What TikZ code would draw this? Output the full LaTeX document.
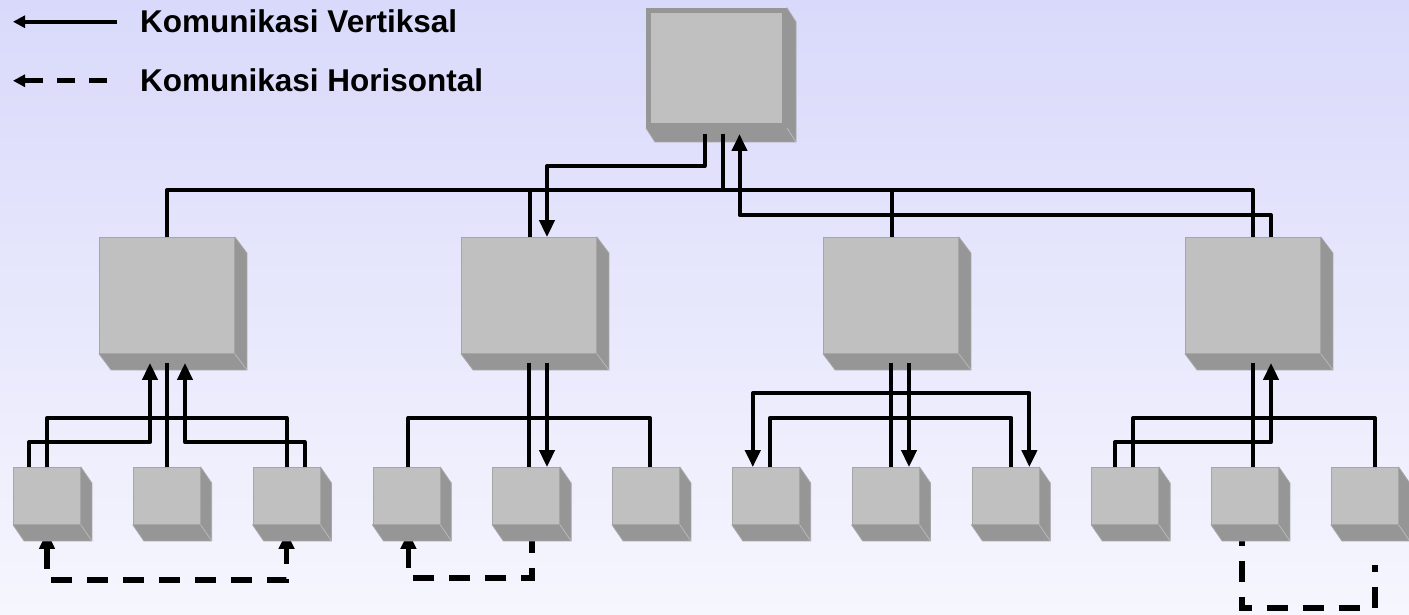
\documentclass[tikz,border=0pt]{standalone}
\usepackage{fontspec}
\setmainfont{Liberation Sans}
\usepackage{tikz}
\usetikzlibrary{arrows.meta, backgrounds, calc}

\definecolor{bgtop}{RGB}{217,217,251}
\definecolor{bgbot}{RGB}{246,246,254}
\definecolor{face}{RGB}{192,192,192}
\definecolor{shadow}{RGB}{150,150,150}
\definecolor{edge}{RGB}{166,166,166}
\definecolor{ridge}{RGB}{185,185,185}

\begin{document}
\begin{tikzpicture}
		[x=1pt, y=-1pt,
		>={Triangle[width=15pt,length=17pt]},
		hb/.style = {rectangle, fill=face, draw=shadow, line width=5pt, inner sep=0pt, outer sep=2.5pt, minimum width=136pt, minimum height=115pt},
		mb/.style = {rectangle, fill=face, draw=edge, line width=0.8pt, inner sep=0pt, minimum width=135pt, minimum height=116pt},
		sb/.style = {rectangle, fill=face, draw=edge, line width=0.8pt, inner sep=0pt, minimum width=67pt, minimum height=57pt},
		back/.style = {fill=shadow, draw=edge, line width=0.8pt},
		vl/.style = {draw=black, line width=4pt, line join=round},
		hl/.style = {draw=black, line width=5.5pt, dash pattern=on 21pt off 15pt},
		lg/.style = {inner sep=0pt, anchor=base west, font=\bfseries\fontsize{31.5}{37}\selectfont}]
		
		\useasboundingbox (0,0) rectangle (1409,615);
		
		% boxes
		\node[hb] (top) at (716.5,68) {};
		\foreach \i in {1,...,4}
		{
			\node[mb] (m\i) at ({167+362*(\i-1)},295.5) {};
		}
		\foreach \i in {1,...,12}
		{
			\node[sb] (b\i) at ({47+119.8*(\i-1)},496) {};
		}
		
		% legend
		\node[lg] (lgv) at (140,33) {Komunikasi Vertiksal};
		\node[lg] (lgh) at (140,92) {Komunikasi Horisontal};
		\draw[vl, {Triangle[width=12pt,length=12pt]}-] ([xshift=-127pt]lgv.west) -- ([xshift=-23pt]lgv.west);
		\draw[hl, dash pattern=on 18pt off 14pt, -{Triangle[width=12pt,length=12pt]}] ([xshift=-33pt]lgh.west) -- ([xshift=-127pt]lgh.west);
		
		% ports under the middle boxes
		\foreach \m in {m1,m2,m3,m4}
		{
			\coordinate (\m c) at ([yshift=-9pt]\m.south);
			\coordinate (\m l) at ([xshift=-17pt,yshift=-9pt]\m.south);
			\coordinate (\m r) at ([xshift=18pt,yshift=-9pt]\m.south);
		}
		
		% top level
		\draw[vl] ([xshift=6pt,yshift=-6pt]top.south) -- ++(0,56);
		\draw[vl] (m1.north) -- ++(0,-47) -| (m4.north);
		\foreach \m in {m2,m3}
			\draw[vl] ([xshift=1pt]\m.north) -- ++(0,-47);
		\draw[vl,->] ([xshift=-12pt,yshift=-6pt]top.south) -- ++(0,32) -| ([xshift=18pt]m2.north);
		\draw[vl,->] ([xshift=18pt]m4.north) -- ++(0,-22) -| ([xshift=23pt,yshift=-6pt]top.south);
		
		% group 1
		\draw[vl] (m1c) -- (m1c |- b2.north);
		\draw[vl] (b1.north) -- ++(0,-49) -| (b3.north);
		\draw[vl,->] ([xshift=-18pt]b1.north) -- ++(0,-25) -| (m1l);
		\draw[vl,->] ([xshift=18pt]b3.north) -- ++(0,-25) -| (m1r);
		
		% group 2
		\draw[vl] (m2c) -- (m2c |- b5.north);
		\draw[vl,->] (m2r) -- (m2r |- b5.north);
		\draw[vl] ([xshift=2pt]b4.north) -- ++(0,-49) -| ([xshift=4pt]b6.north);
		
		% group 3
		\draw[vl] (m3c) -- (m3c |- b8.north);
		\draw[vl,->] (m3r) -- (m3r |- b8.north);
		\draw[vl] ([xshift=4pt]b7.north) -- ++(0,-49) -| ([xshift=6pt]b9.north);
		\draw[vl,<->] ([xshift=-13pt]b7.north) -- ++(0,-74) -| ([xshift=24pt]b9.north);
		
		% group 4
		\draw[vl] (m4c) -- (m4c |- b11.north);
		\draw[vl,->] ([xshift=-10pt]b10.north) -- ++(0,-25) -| (m4r);
		\draw[vl] ([xshift=8pt]b10.north) -- ++(0,-49) -| ([xshift=10pt]b12.north);
		
		\begin{scope}[on background layer]
			\shade[top color=bgtop, bottom color=bgbot] (0,0) rectangle (1409,615);
			
			% horizontal communication
			\draw[hl,<->] ([yshift=-7pt]b1.south) -- ++(0,48) -| ([yshift=-7pt]b3.south);
			\draw[hl,->] ([xshift=6pt,yshift=-7pt]b5.south) -- ++(0,46) -| ([xshift=2pt,yshift=-7pt]b4.south);
			\draw[hl] ([xshift=-3pt]b11.south) -- ++(0,83) -| ([xshift=10pt,yshift=-40pt]b12.south);
			
			% depth of the boxes
			\foreach \n/\dx/\dy in {top/9/14, m1/12/16, m2/12/16, m3/12/16, m4/12/16}
			{
				\draw[back] (\n.north east) -- ++(\dx,\dy) -- ([shift={(\dx,\dy)}]\n.south east) -- ([shift={(\dx,\dy)}]\n.south west) -- (\n.south west) -- cycle;
				\draw[ridge, line width=0.8pt] (\n.south east) -- ++(\dx,\dy);
			}
			\foreach \i in {1,...,12}
			{
				\draw[back] (b\i.north east) -- ++(11,16) -- ([shift={(11,16)}]b\i.south east) -- ([shift={(11,16)}]b\i.south west) -- (b\i.south west) -- cycle;
				\draw[ridge, line width=0.8pt] (b\i.south east) -- ++(11,16);
			}
		\end{scope}
		
	\end{tikzpicture}
\end{document}
